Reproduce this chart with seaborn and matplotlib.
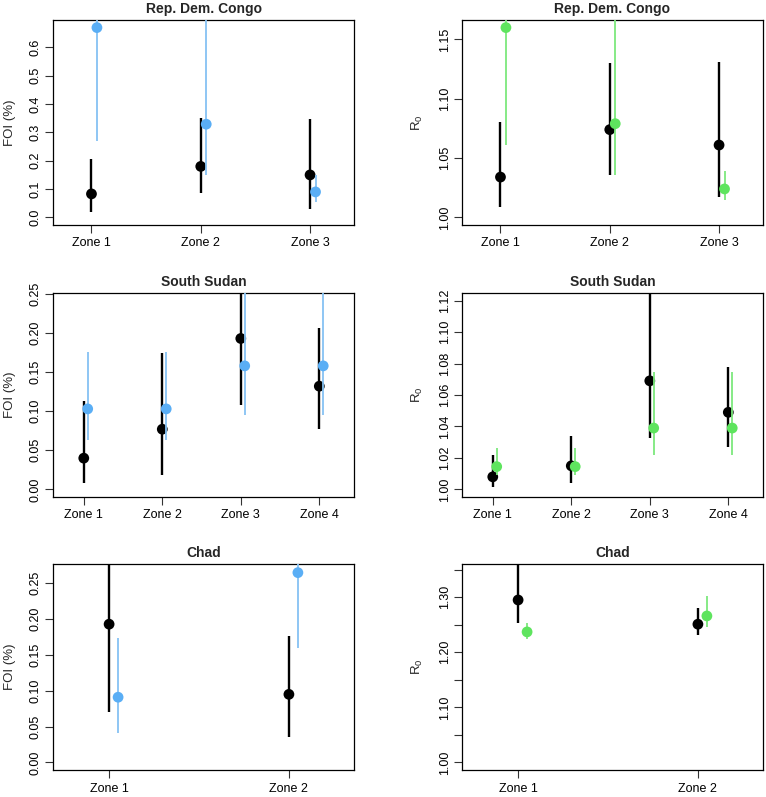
import numpy as np
import pandas as pd
import seaborn as sns
import matplotlib
matplotlib.use("Agg")
import matplotlib.pyplot as plt

# ---- data ----
countries = ["Rep. Dem. Congo", "South Sudan", "Chad"]
zones = {
    "Rep. Dem. Congo": ["Zone 1", "Zone 2", "Zone 3"],
    "South Sudan": ["Zone 1", "Zone 2", "Zone 3", "Zone 4"],
    "Chad": ["Zone 1", "Zone 2"],
}

# FOI (%) - black series (estimate, lower, upper)
foi_est = {"Rep. Dem. Congo": [0.083, 0.180, 0.150],
           "South Sudan": [0.040, 0.077, 0.193, 0.132],
           "Chad": [0.193, 0.095]}
foi_lo = {"Rep. Dem. Congo": [0.018, 0.085, 0.030],
          "South Sudan": [0.008, 0.018, 0.108, 0.077],
          "Chad": [0.071, 0.036]}
foi_hi = {"Rep. Dem. Congo": [0.205, 0.350, 0.348],
          "South Sudan": [0.113, 0.174, 0.300, 0.207],
          "Chad": [0.320, 0.176]}
# FOI (%) - blue series
foi2_est = {"Rep. Dem. Congo": [0.670, 0.329, 0.090],
            "South Sudan": [0.103, 0.103, 0.158, 0.158],
            "Chad": [0.091, 0.265]}
foi2_lo = {"Rep. Dem. Congo": [0.270, 0.150, 0.055],
           "South Sudan": [0.063, 0.063, 0.095, 0.095],
           "Chad": [0.041, 0.160]}
foi2_hi = {"Rep. Dem. Congo": [0.900, 0.900, 0.148],
           "South Sudan": [0.176, 0.176, 0.300, 0.300],
           "Chad": [0.174, 0.320]}

# R0 - black series
r0_est = {"Rep. Dem. Congo": [1.034, 1.074, 1.061],
          "South Sudan": [1.008, 1.015, 1.069, 1.049],
          "Chad": [1.295, 1.251]}
r0_lo = {"Rep. Dem. Congo": [1.009, 1.036, 1.017],
         "South Sudan": [1.0015, 1.004, 1.033, 1.027],
         "Chad": [1.254, 1.231]}
r0_hi = {"Rep. Dem. Congo": [1.080, 1.130, 1.131],
         "South Sudan": [1.022, 1.034, 1.150, 1.078],
         "Chad": [1.400, 1.281]}
# R0 - green series
r02_est = {"Rep. Dem. Congo": [1.160, 1.079, 1.024],
           "South Sudan": [1.0145, 1.0145, 1.039, 1.039],
           "Chad": [1.237, 1.266]}
r02_lo = {"Rep. Dem. Congo": [1.061, 1.036, 1.015],
          "South Sudan": [1.009, 1.009, 1.022, 1.022],
          "Chad": [1.225, 1.246]}
r02_hi = {"Rep. Dem. Congo": [1.250, 1.250, 1.039],
          "South Sudan": [1.0266, 1.0266, 1.0745, 1.0745],
          "Chad": [1.254, 1.302]}

# axis limits (before R-style 4% padding) and ticks
foi_ylim = {"Rep. Dem. Congo": (0, 0.67), "South Sudan": (0, 0.2415), "Chad": (0, 0.2664)}
r0_ylim = {"Rep. Dem. Congo": (1.0, 1.16), "South Sudan": (1.0, 1.12), "Chad": (1.0, 1.3465)}
foi_ticks = {"Rep. Dem. Congo": np.arange(0, 0.61, 0.1), "South Sudan": np.arange(0, 0.251, 0.05),
             "Chad": np.arange(0, 0.251, 0.05)}
r0_ticks = {"Rep. Dem. Congo": np.arange(1.0, 1.151, 0.05), "South Sudan": np.arange(1.0, 1.121, 0.02),
            "Chad": np.arange(1.0, 1.351, 0.05)}

sns.set_style("white")
plt.rcParams["font.family"] = ["Liberation Sans", "DejaVu Sans"]
plt.rcParams["mathtext.default"] = "regular"

W, H = 766, 797
fig = plt.figure(figsize=(W / 100, H / 100), dpi=100)

cols = [(53, 354), (462, 763)]
rows = [(20, 225), (293, 497), (564, 770)]


def rlim(lo, hi):
    d = (hi - lo) * 0.04
    return lo - d, hi + d


def panel(ax, country, est, lo, hi, est2, lo2, hi2, col2, ylim, ticks, ylab, fmt, skip):
    n = len(zones[country])
    x = np.arange(1, n + 1)
    df = pd.DataFrame({"x": x, "est": est[country], "lo": lo[country], "hi": hi[country]})
    df2 = pd.DataFrame({"x": x + 0.05, "est": est2[country], "lo": lo2[country], "hi": hi2[country]})
    ax.vlines(df["x"], df["lo"], df["hi"], color="black", lw=1.7, zorder=2)
    sns.scatterplot(data=df, x="x", y="est", color="black", s=60, edgecolor="none", ax=ax, zorder=3)
    ax.vlines(df2["x"], df2["lo"], df2["hi"], color=col2[1], lw=1.3, zorder=4)
    sns.scatterplot(data=df2, x="x", y="est", color=col2[0], s=60, edgecolor="none", ax=ax, zorder=5)
    ax.set_xlim(*rlim(0.75, n + 0.3))
    ax.set_ylim(*rlim(*ylim))
    ax.set_xticks(x)
    ax.set_xticklabels(zones[country], fontsize=9)
    ax.set_yticks(ticks)
    labs = [fmt.format(t) if (i % skip == 0) else "" for i, t in enumerate(ticks)]
    ax.set_yticklabels(labs, rotation=90, va="center", fontsize=9)
    ax.tick_params(axis="both", direction="out", length=6, width=0.8, colors="#333333",
                   labelcolor="black", left=True, bottom=True)
    ax.tick_params(axis="x", pad=3)
    ax.tick_params(axis="y", pad=2)
    for s in ax.spines.values():
        s.set_color("black")
        s.set_linewidth(0.9)
    ax.set_xlabel("")
    ax.set_ylabel(ylab, fontsize=9.5, labelpad=10)
    ax.set_title(country, fontsize=10, fontweight="bold", pad=5)


blue = ("#5AAEF5", "#86C2F3")
green = ("#5EE45E", "#7DE87D")

for r, country in enumerate(countries):
    y0, y1 = rows[r]
    for c in range(2):
        x0, x1 = cols[c]
        ax = fig.add_axes([x0 / W, 1 - y1 / H, (x1 - x0) / W, (y1 - y0) / H])
        if c == 0:
            panel(ax, country, foi_est, foi_lo, foi_hi, foi2_est, foi2_lo, foi2_hi, blue,
                  foi_ylim[country], foi_ticks[country], "FOI (%)",
                  "{:.1f}" if country == "Rep. Dem. Congo" else "{:.2f}", 1)
        else:
            panel(ax, country, r0_est, r0_lo, r0_hi, r02_est, r02_lo, r02_hi, green,
                  r0_ylim[country], r0_ticks[country], "R$_0$", "{:.2f}",
                  2 if country == "Chad" else 1)

fig.savefig("out.png", dpi=100)
